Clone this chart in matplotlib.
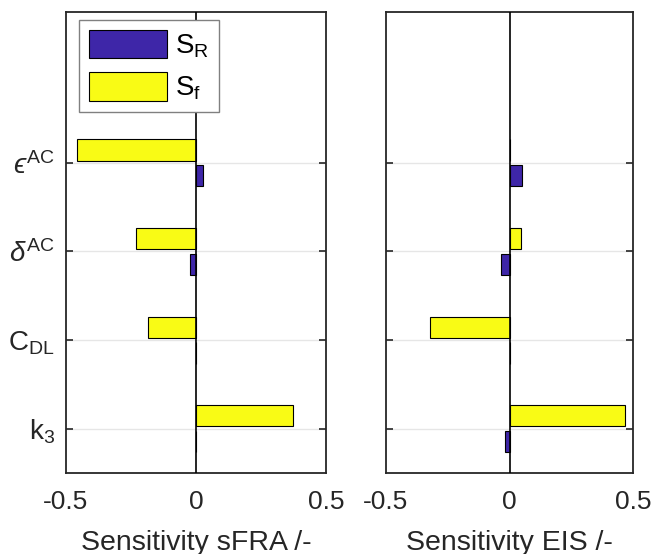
import matplotlib
matplotlib.use("Agg")
import matplotlib.pyplot as plt
import numpy as np

plt.rcParams['font.family'] = ['Liberation Sans', 'DejaVu Sans']
plt.rcParams['mathtext.fontset'] = 'custom'
plt.rcParams['mathtext.rm'] = 'Liberation Sans'
plt.rcParams['mathtext.it'] = 'Liberation Sans:italic'
plt.rcParams['mathtext.fallback'] = 'stixsans'
plt.rcParams['font.size'] = 18

# parameters, bottom to top
params = [r'$\mathrm{k_3}$', r'$\mathrm{C_{DL}}$', r'$\delta^{\mathrm{AC}}$', '$\u03f5^{\\mathrm{AC}}$']
ypos = np.arange(1, len(params) + 1)

# sensitivities
sfra_SR = [0.0, 0.0, -0.022, 0.028]
sfra_Sf = [0.372, -0.183, -0.231, -0.456]
eis_SR = [-0.020, 0.0, -0.034, 0.049]
eis_Sf = [0.466, -0.321, 0.046, 0.0]

blue = '#3e26a8'
yellow = '#f9fb15'
dark = '#262626'

fig = plt.figure(figsize=(6.52, 5.54), dpi=100)
ax1 = fig.add_axes([0.1012, 0.1462, 0.3988, 0.8321])
ax2 = fig.add_axes([0.592, 0.1462, 0.379, 0.8321])

bh = 0.24
off = 0.145
for ax, sr, sf, xlab in [(ax1, sfra_SR, sfra_Sf, 'Sensitivity sFRA /-'),
                         (ax2, eis_SR, eis_Sf, 'Sensitivity EIS /-')]:
    ax.barh(ypos - off, sr, height=bh, color=blue, edgecolor='black', linewidth=0.8, label=r'$\mathrm{S_R}$', zorder=3)
    ax.barh(ypos + off, sf, height=bh, color=yellow, edgecolor='black', linewidth=0.8, label=r'$\mathrm{S_f}$', zorder=3)
    ax.axvline(0, color='black', linewidth=1.2, zorder=4)
    ax.set_xlim(-0.5, 0.5)
    ax.set_ylim(0.5, 5.7)
    ax.set_xticks([-0.5, 0, 0.5])
    ax.set_xticklabels(['-0.5', '0', '0.5'])
    ax.set_yticks(ypos)
    ax.grid(axis='y', color='#e6e6e6', linewidth=1, zorder=0)
    ax.set_axisbelow(True)
    ax.tick_params(direction='in', length=5, width=1.2, color=dark, labelcolor=dark,
                   left=True, right=True, top=False, bottom=False, pad=8)
    ax.tick_params(axis='x', pad=12, labelsize=19)
    for s in ax.spines.values():
        s.set_linewidth(1.3)
        s.set_color(dark)
    ax.set_xlabel(xlab, color=dark, fontsize=20.5, labelpad=12)

ax1.set_yticklabels(params, fontsize=20)
ax2.set_yticklabels([])

leg = ax1.legend(loc='upper left', bbox_to_anchor=(0.03, 0.995), fancybox=False, framealpha=1,
                 edgecolor='#808080', handlelength=2.8, handleheight=1.2, handletextpad=0.3,
                 borderpad=0.35, labelspacing=0.45, borderaxespad=0.2, fontsize=20)
leg.get_frame().set_linewidth(1.0)

fig.savefig('out.png', dpi=100)
